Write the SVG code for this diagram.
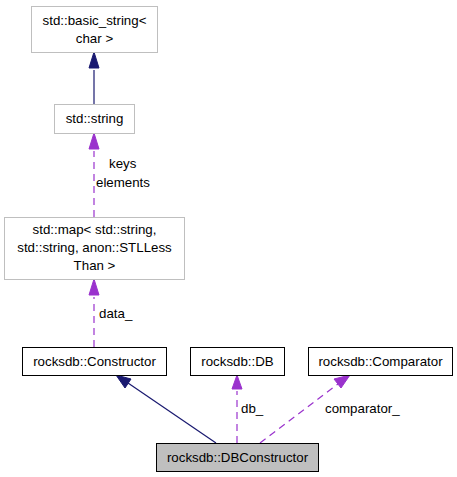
<svg xmlns="http://www.w3.org/2000/svg" width="457" height="477" viewBox="0 0 457 477">
  <style>
    text { font-family: "Liberation Sans", Arial, sans-serif; font-size: 13.3px; fill: #000; }
    .c { text-anchor: middle; }
    .box { fill: #fff; stroke: #000; stroke-width: 1; }
    .ext { fill: #fff; stroke: #bfbfbf; stroke-width: 1; }
    .cur { fill: #bfbfbf; stroke: #000; stroke-width: 1; }
    .inh { fill: none; stroke: #191970; stroke-width: 1.2; }
    .use { fill: none; stroke: #9a32cd; stroke-width: 1.2; stroke-dasharray: 7,5; }
  </style>
  <defs>
    <marker id="ah-inh" viewBox="0 0 10 10" refX="10" refY="5" markerWidth="10" markerHeight="10" markerUnits="userSpaceOnUse" orient="auto">
      <path d="M0,0 L10,5 L0,10 z" fill="#191970" stroke="#191970"/>
    </marker>
    <marker id="ah-use" viewBox="0 0 10 10" refX="10" refY="5" markerWidth="10" markerHeight="10" markerUnits="userSpaceOnUse" orient="auto">
      <path d="M0,0 L10,5 L0,10 z" fill="#9a32cd" stroke="#9a32cd"/>
    </marker>
  </defs>

  <!-- connectors -->
  <g id="edges">
    <path class="inh" d="M94,104 L94,70" />
    <path d="M89,68 L94,52 L99,68 z" fill="#191970" stroke="#191970"/>

    <path class="use" d="M94,217 L94,151" />
    <path d="M89,149 L94,133 L99,149 z" fill="#9a32cd" stroke="#9a32cd"/>
    <text x="109" y="168">keys</text>
    <text x="96" y="187">elements</text>

    <path class="use" d="M94,347 L94,297" />
    <path d="M89,295 L94,279 L99,295 z" fill="#9a32cd" stroke="#9a32cd"/>
    <text x="99" y="318">data_</text>

    <path class="inh" d="M216,443 L128,383" />
    <path d="M125,388 L116,375 L131,379 z" fill="#191970" stroke="#191970"/>

    <path class="use" d="M237,443 L237,391" />
    <path d="M232,389 L237,375 L242,389 z" fill="#9a32cd" stroke="#9a32cd"/>
    <text x="241" y="413">db_</text>

    <path class="use" d="M260,443 L338,384" />
    <path d="M334,379 L350,375 L341,388 z" fill="#9a32cd" stroke="#9a32cd"/>
    <text x="325" y="413">comparator_</text>
  </g>

  <g id="node-basic-string">
    <rect class="ext" x="31.5" y="6.5" width="126" height="46"/>
    <text class="c" x="94.5" y="25">std::basic_string&lt;</text>
    <text class="c" x="94.5" y="43">char &gt;</text>
  </g>

  <g id="node-string">
    <rect class="ext" x="54.5" y="104.5" width="80" height="29"/>
    <text class="c" x="94.5" y="123">std::string</text>
  </g>

  <g id="node-map">
    <rect class="ext" x="4.5" y="217.5" width="180" height="62"/>
    <text class="c" x="94.5" y="234">std::map&lt; std::string,</text>
    <text class="c" x="94.5" y="252">std::string, anon::STLLess</text>
    <text class="c" x="94.5" y="270">Than &gt;</text>
  </g>

  <g id="node-constructor">
    <rect class="box" x="22.5" y="347.5" width="144" height="28"/>
    <text class="c" x="94.5" y="366">rocksdb::Constructor</text>
  </g>

  <g id="node-db">
    <rect class="box" x="190.5" y="347.5" width="94" height="28"/>
    <text class="c" x="237.5" y="366">rocksdb::DB</text>
  </g>

  <g id="node-comparator">
    <rect class="box" x="308.5" y="347.5" width="144" height="28"/>
    <text class="c" x="380.5" y="366">rocksdb::Comparator</text>
  </g>

  <g id="node-dbconstructor">
    <rect class="cur" x="156.5" y="443.5" width="162" height="28"/>
    <text class="c" x="237.5" y="462">rocksdb::DBConstructor</text>
  </g>
</svg>
